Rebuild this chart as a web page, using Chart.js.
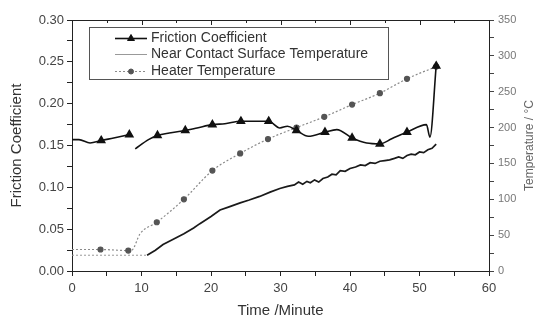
<!DOCTYPE html>
<html>
<head>
<meta charset="utf-8">
<script src="https://cdn.jsdelivr.net/npm/chart.js@4.4.0/dist/chart.umd.min.js"></script>
<style>
  html, body { margin: 0; padding: 0; background: #fff; }
  #wrap { width: 535px; height: 320px; }
</style>
</head>
<body>
<div id="wrap"><canvas id="chart" width="535" height="320"></canvas></div>
<script>
// values
const seriesNames = ["Friction Coefficient", "Near Contact Surface Temperature", "Heater Temperature"]

const frictionTime = [0, 1, 2.6, 4.2, 6, 8.25, 8.7, 9.1, 11, 12.3, 14, 16.3, 18, 20.2, 22, 24.3, 26, 28.3, 29.9, 31, 32.3, 34, 36.4, 38.1, 40.3, 42.4, 44.3, 46, 48.2, 51, 51.5, 52.4]
const frictionCoef = [0.157, 0.157, 0.153, 0.156, 0.159, 0.163, null, 0.146, 0.157, 0.162, 0.165, 0.168, 0.171, 0.175, 0.176, 0.179, 0.179, 0.179, 0.171, 0.173, 0.168, 0.161, 0.166, 0.169, 0.159, 0.153, 0.152, 0.158, 0.166, 0.175, 0.160, 0.245]

const surfaceTime = [0, 10.8, 12, 13.1, 14.5, 16.1, 17.5, 18.4, 20, 21.3, 22.5, 24.2, 25.5, 27, 28.5, 29.9, 31, 32, 32.6, 33.2, 33.8, 34.3, 34.9, 35.5, 36.1, 36.8, 37.4, 38, 38.6, 39.3, 40, 40.8, 41.5, 42.2, 42.9, 43.6, 44.3, 45, 45.7, 46.4, 47, 47.6, 48.2, 48.8, 49.4, 50, 50.6, 51.2, 51.8, 52.4]
const surfaceTemp = [22, 22, 29, 37, 44, 52, 60, 66, 76, 85, 89, 95, 99, 104, 110, 115, 118, 120, 124, 121, 125, 123, 127, 124, 129, 131, 135, 134, 140, 139, 143, 145, 148, 147, 151, 150, 153, 154, 155, 157, 159, 157, 161, 163, 162, 166, 165, 169, 171, 177]

const heaterTime = [0, 4.1, 8.1, 8.6, 9.8, 12.2, 16.1, 20.2, 24.2, 28.2, 32.3, 36.3, 40.3, 44.3, 48.2, 52.4]
const heaterTemp = [30, 30, 28.5, 29, 52, 68, 100, 140, 164, 184, 200, 215, 232, 248, 268, 285]

const xTickLabels = ["0", "10", "20", "30", "40", "50", "60"]
const leftTickLabels = ["0.00", "0.05", "0.10", "0.15", "0.20", "0.25", "0.30"]
const rightTickLabels = ["0", "50", "100", "150", "200", "250", "300", "350"]

Chart.defaults.font.family = '"Liberation Sans", Arial, sans-serif'

const toPoints = (xs, ys) => xs.map((x, i) => ({ x: x, y: ys[i] }))
// markers sit about every 4 minutes
const onMarker = (ctx) => ctx.raw && ctx.raw.x > 1 && (ctx.raw.x % 4) < 0.5

const frame = {
  id: "frame",
  afterDraw(chart) {
    const { ctx, chartArea: a, scales } = chart
    ctx.save()

    // top border with inward ticks
    ctx.strokeStyle = "#222"
    ctx.lineWidth = 1
    ctx.beginPath()
    ctx.moveTo(a.left, a.top + 0.5)
    ctx.lineTo(a.right, a.top + 0.5)
    scales.x.ticks.forEach(t => {
      const px = Math.round(scales.x.getPixelForValue(t.value)) + 0.5
      ctx.moveTo(px, a.top)
      ctx.lineTo(px, a.top + (t.value % 10 === 0 ? 5 : 3))
    })
    ctx.stroke()

    // right axis title, reading upwards
    ctx.save()
    ctx.translate(530, (a.top + a.bottom) / 2)
    ctx.rotate(-Math.PI / 2)
    ctx.fillStyle = "#666"
    ctx.font = '12px "Liberation Sans", Arial, sans-serif'
    ctx.textAlign = "center"
    ctx.textBaseline = "middle"
    ctx.fillText("Temperature / °C", 0, 0)
    ctx.restore()

    // legend box
    const bx = 89, by = 27, bw = 299, bh = 52
    ctx.fillStyle = "#fff"
    ctx.fillRect(bx, by, bw, bh)
    ctx.strokeStyle = "#555"
    ctx.strokeRect(bx + 0.5, by + 0.5, bw, bh)

    const rows = [38, 54, 71]
    const x0 = 115, x1 = 147
    chart.data.datasets.forEach((ds, i) => {
      const y = rows[i] + 0.5
      ctx.save()
      ctx.strokeStyle = ds.legendColor
      ctx.lineWidth = ds.legendWidth
      ctx.setLineDash(ds.borderDash || [])
      ctx.beginPath()
      ctx.moveTo(x0, y)
      ctx.lineTo(x1, y)
      ctx.stroke()
      ctx.setLineDash([])
      if (ds.pointStyle && ds.legendRadius) {
        ctx.fillStyle = ds.pointBackgroundColor
        ctx.strokeStyle = ds.pointBorderColor
        ctx.lineWidth = 1
        Chart.helpers.drawPoint(ctx, { pointStyle: ds.pointStyle, radius: ds.legendRadius, rotation: 0, borderWidth: 1 }, (x0 + x1) / 2, y)
      }
      ctx.fillStyle = "#333"
      ctx.font = '14px "Liberation Sans", Arial, sans-serif'
      ctx.textBaseline = "middle"
      ctx.fillText(seriesNames[i], 151, y)
      ctx.restore()
    })

    ctx.restore()
  }
}

new Chart(document.getElementById("chart"), {
  type: "line",
  data: {
    datasets: [{
      label: seriesNames[0],
      data: toPoints(frictionTime, frictionCoef),
      yAxisID: "y",
      borderColor: "#111",
      borderWidth: 1.6,
      cubicInterpolationMode: "monotone",
      pointStyle: "triangle",
      pointRadius: ctx => onMarker(ctx) ? 4 : 0,
      pointBackgroundColor: "#111",
      pointBorderColor: "#111",
      legendColor: "#111",
      legendWidth: 1.6,
      legendRadius: 4
    }, {
      label: seriesNames[1],
      data: toPoints(surfaceTime, surfaceTemp),
      yAxisID: "y1",
      borderColor: "#1a1a1a",
      borderWidth: 1.7,
      pointRadius: 0,
      segment: {
        borderColor: ctx => ctx.p0.parsed.x < 10.8 ? "#999" : undefined,
        borderDash: ctx => ctx.p0.parsed.x < 10.8 ? [2, 2] : undefined,
        borderWidth: ctx => ctx.p0.parsed.x < 10.8 ? 1 : undefined
      },
      legendColor: "#999",
      legendWidth: 1
    }, {
      label: seriesNames[2],
      data: toPoints(heaterTime, heaterTemp),
      yAxisID: "y1",
      borderColor: "#8a8a8a",
      borderWidth: 1.2,
      borderDash: [2, 2],
      cubicInterpolationMode: "monotone",
      pointStyle: "circle",
      pointRadius: ctx => onMarker(ctx) ? 2.5 : 0,
      pointBackgroundColor: "#555",
      pointBorderColor: "#555",
      legendColor: "#8a8a8a",
      legendWidth: 1.2,
      legendRadius: 2.5
    }]
  },
  options: {
    responsive: false,
    animation: false,
    layout: { padding: { top: 20, left: 0, right: 0, bottom: 0 } },
    plugins: {
      legend: { display: false },
      tooltip: { enabled: false }
    },
    scales: {
      x: {
        type: "linear",
        min: 0,
        max: 60,
        afterFit: s => { s.height = 49 },
        border: { color: "#222", width: 1 },
        grid: { drawOnChartArea: false, tickLength: 5, tickColor: "#222" },
        ticks: {
          stepSize: 5,
          autoSkip: false,
          maxRotation: 0,
          padding: 5,
          color: "#444",
          font: { size: 13 },
          callback: v => v % 10 === 0 ? xTickLabels[v / 10] : ""
        },
        title: { display: true, text: "Time /Minute", color: "#333", font: { size: 15 }, padding: { top: 2, bottom: 0 } }
      },
      y: {
        position: "left",
        min: 0,
        max: 0.3,
        afterFit: s => { s.width = 72 },
        border: { color: "#222", width: 1 },
        grid: { drawOnChartArea: false, tickLength: 5, tickColor: "#222" },
        ticks: {
          stepSize: 0.025,
          autoSkip: false,
          padding: 3,
          color: "#444",
          font: { size: 13 },
          callback: v => {
            const k = Math.round(v * 1000)
            return k % 50 === 0 ? leftTickLabels[k / 50] : ""
          }
        },
        title: { display: true, text: "Friction Coefficient", color: "#333", font: { size: 15 }, padding: { top: 8, bottom: 0 } }
      },
      y1: {
        position: "right",
        min: 0,
        max: 350,
        afterFit: s => { s.width = 46 },
        border: { color: "#222", width: 1 },
        grid: { drawOnChartArea: false, tickLength: 5, tickColor: "#444" },
        ticks: {
          stepSize: 25,
          autoSkip: false,
          padding: 4,
          color: "#777",
          font: { size: 11 },
          callback: v => v % 50 === 0 ? rightTickLabels[v / 50] : ""
        }
      }
    }
  },
  plugins: [frame]
})
</script>
</body>
</html>
